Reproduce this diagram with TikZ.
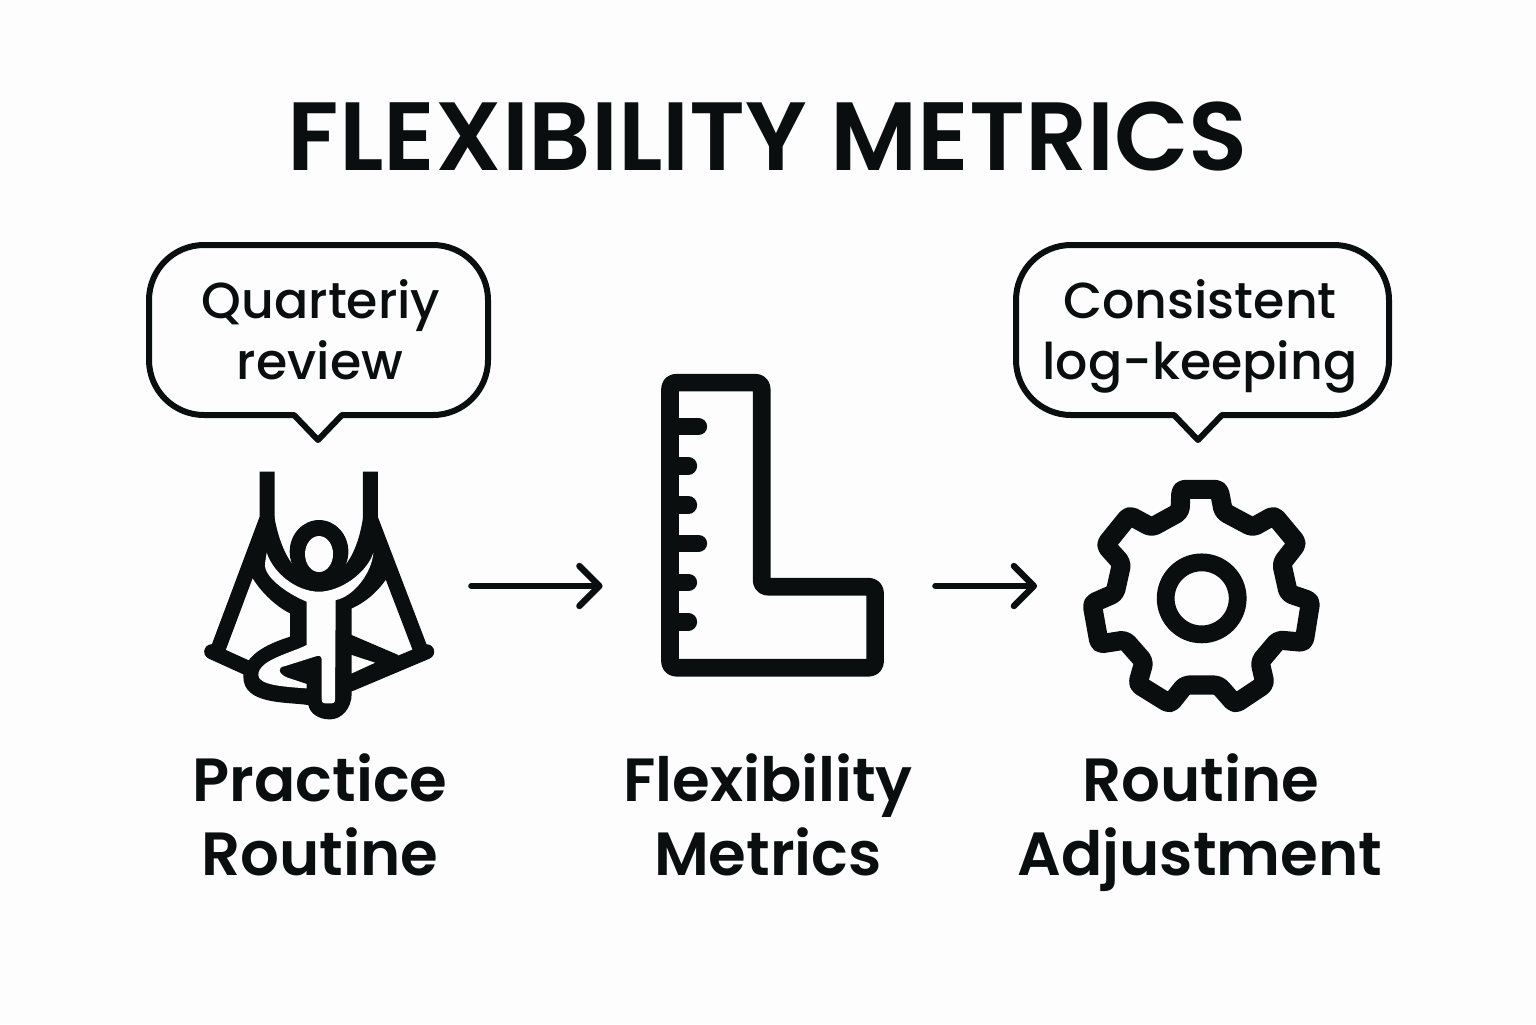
\documentclass[tikz,border=0pt]{standalone}
\usepackage{fontspec}
\usetikzlibrary{arrows.meta}
\setmainfont{Poppins}
\newfontfamily\medfont{Poppins Medium}
\newfontfamily\semifont{Poppins SemiBold}
\definecolor{ink}{HTML}{0A0E0F}
\definecolor{paper}{HTML}{FDFDFD}
\tikzset{
  x=0.5pt,y=-0.5pt,
  titletext/.style={inner sep=0pt,text=ink,font=\semifont\fontsize{48.5}{50}\selectfont},
  labeltext/.style={inner sep=0pt,text=ink,align=center,font=\semifont\fontsize{30.5}{37}\selectfont},
  bubbletext/.style={inner sep=0pt,text=ink,align=center,font=\medfont\fontsize{25.3}{30.5}\selectfont},
  bubble/.style={draw=ink,line width=3pt,fill=none,line join=round},
  iconbox/.style={inner sep=0pt,minimum height=60pt},
  flow/.style={draw=ink,line width=3.2pt,line cap=round,-{Straight Barb[length=10pt,width=20pt,round,line width=3.2pt]}},
  thick stroke/.style={draw=ink,line width=8pt,line cap=round,line join=round},
  sling/.style={draw=ink,line width=7.5pt,line join=round},
}
\begin{document}
\begin{tikzpicture}
\useasboundingbox[fill=paper] (0,0) rectangle (1536,1024);
% title
\node[titletext,anchor=base] (title) at (768,170) {FLEXIBILITY METRICS};
% bubbles
\draw[bubble] (204,245) -- (433,245) arc[start angle=90,end angle=0,radius=27.5pt] -- (488,360) arc[start angle=0,end angle=-90,radius=27.5pt] -- (342,415) -- (318,440) -- (294,415) -- (204,415) arc[start angle=270,end angle=180,radius=27.5pt] -- (149,300) arc[start angle=180,end angle=90,radius=27.5pt] -- cycle;
\draw[bubble] (1071,245) -- (1334,245) arc[start angle=90,end angle=0,radius=27.5pt] -- (1389,360) arc[start angle=0,end angle=-90,radius=27.5pt] -- (1222,415) -- (1198,440) -- (1174,415) -- (1071,415) arc[start angle=270,end angle=180,radius=27.5pt] -- (1016,300) arc[start angle=180,end angle=90,radius=27.5pt] -- cycle;
\node[bubbletext,anchor=base] (bq) at (321,318) {Quarteriy};
\node[bubbletext,anchor=base] (bq2) at (320,379) {review};
\node[bubbletext,anchor=base] (bc) at (1200,318) {Consistent};
\node[bubbletext,anchor=base] (bc2) at (1200,379) {log-keeping};
% anchors of the icons for connectors
\node[iconbox,minimum width=150pt] (practice) at (321,586) {};
\node[iconbox,minimum width=166pt] (metrics) at (769,586) {};
\node[iconbox,minimum width=163pt] (adjust) at (1200.5,586) {};
\draw[flow] (practice.east) -- (metrics.west);
\draw[flow] (metrics.east) -- (adjust.west);
% person icon, reference pixels from a zoomed crop
\begin{scope}[shift={(190,460)},x=0.1667pt,y=-0.1667pt]
  \draw[sling,line cap=butt] (231,35) -- (231,175) -- (85,565);
  \draw[sling,line cap=butt] (541,35) -- (541,175) -- (690,565);
  \draw[sling,line cap=round] (65,575) -- (175,625);
  \draw[sling,line cap=round] (710,575) -- (480,672);
  \fill[ink] (478,522) -- (625,585) -- (610,640) -- (478,655) -- cycle;
  \fill[ink] (252,165) .. controls (262,225) and (280,275) .. (305,310)
    -- (470,310) .. controls (495,275) and (512,225) .. (520,165)
    -- (560,190) -- (590,355) .. controls (560,400) and (520,430) .. (485,445)
    -- (485,700) .. controls (485,745) and (455,778) .. (420,778)
    .. controls (385,778) and (360,760) .. (355,735)
    .. controls (290,725) and (160,735) .. (160,650)
    .. controls (160,590) and (220,555) .. (300,530)
    -- (300,460) .. controls (260,440) and (215,400) .. (185,350) -- cycle;
  \fill[ink] (387,275) ellipse[x radius=88,y radius=95];
  \fill[paper] (387,282) ellipse[x radius=42,y radius=54];
  \fill[paper] (230,278) .. controls (250,340) and (320,395) .. (387,395)
    .. controls (450,395) and (530,340) .. (550,278)
    .. controls (545,340) and (490,410) .. (437,420)
    -- (435,718) .. controls (435,728) and (430,730) .. (425,730)
    -- (405,730) .. controls (397,730) and (395,725) .. (395,718)
    -- (395,600) .. controls (395,590) and (390,585) .. (380,588)
    -- (285,618) .. controls (260,622) and (265,640) .. (290,652)
    -- (350,672) -- (350,685)
    .. controls (280,680) and (205,675) .. (205,645)
    .. controls (205,600) and (300,580) .. (350,555)
    -- (350,425) .. controls (290,400) and (220,350) .. (225,310) -- cycle;
  \fill[paper] (485,585) -- (555,608) -- (485,640) -- cycle;
\end{scope}
% ruler icon
\begin{scope}[shift={(650,365)},x=0.1667pt,y=-0.1667pt]
  \draw[thick stroke,line width=8.8pt,rounded corners=3pt] (60,53) -- (335,53) -- (335,665) -- (675,665) -- (675,908) -- (60,908) -- cycle;
  \foreach \yy/\xx in {185/145,302/115,420/115,535/145,652/115,770/115}
    \draw[thick stroke,line width=8.8pt] (60,\yy) -- (\xx,\yy);
\end{scope}
% gear icon
\begin{scope}[shift={(1070,470)},x=0.1667pt,y=-0.1667pt]
  \draw[thick stroke,line width=9.6pt,rounded corners=2pt] (333,58) -- (447,58) -- (460,125) -- (548,172) -- (612,136) -- (682,220) -- (635,280) -- (655,370) -- (722,393) -- (702,517) -- (625,510) -- (570,575) -- (585,642) -- (495,702) -- (445,645) -- (345,645) -- (300,702) -- (203,642) -- (222,575) -- (165,510) -- (88,522) -- (66,400) -- (135,370) -- (155,280) -- (106,225) -- (178,136) -- (245,172) -- (330,125) -- cycle;
  \draw[ink,line width=8.9pt] (395,385) circle[radius=108];
\end{scope}
% labels
\node[labeltext,anchor=base] (l1) at (320,801) {Practice};
\node[labeltext,anchor=base] (l1b) at (320,875) {Routine};
\node[labeltext,anchor=base] (l2) at (768,801) {Flexibility};
\node[labeltext,anchor=base] (l2b) at (768,875) {Metrics};
\node[labeltext,anchor=base] (l3) at (1201,801) {Routine};
\node[labeltext,anchor=base] (l3b) at (1200,875) {Adjustment};
\end{tikzpicture}
\end{document}
